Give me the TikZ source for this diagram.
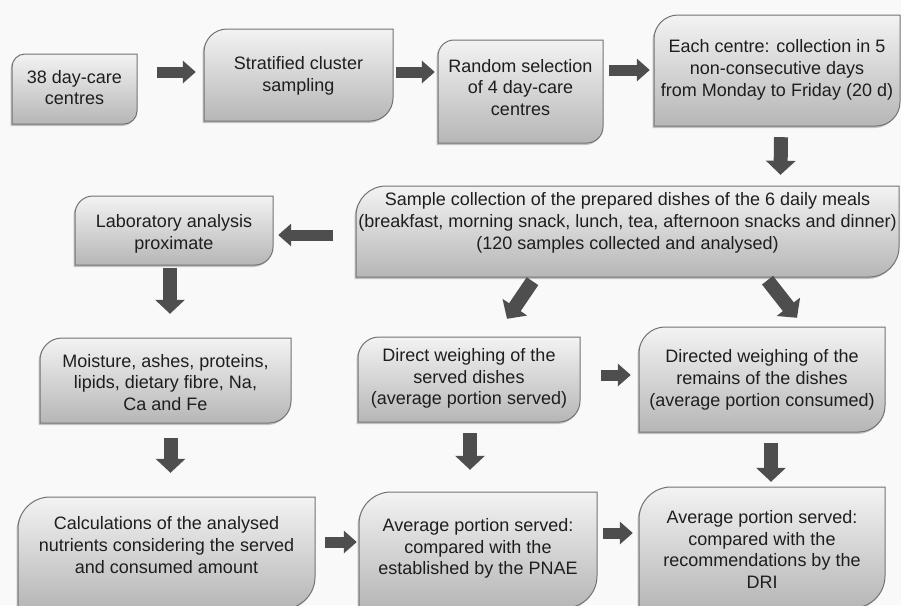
\documentclass[tikz,border=0pt]{standalone}
\usepackage{fontspec}
\setmainfont{Liberation Sans}
\usetikzlibrary{arrows.meta,calc,shadows}
\definecolor{bg}{RGB}{249,249,249}
\definecolor{boxtop}{RGB}{243,243,243}
\definecolor{boxbot}{RGB}{182,182,182}
\definecolor{boxline}{RGB}{115,115,115}
\definecolor{arrowc}{RGB}{78,78,78}
\definecolor{txt}{RGB}{30,30,30}
\tikzset{
 boxshape/.style={draw=boxline, line width=1pt, top color=boxtop, bottom color=boxbot,
   drop shadow={shadow xshift=-1.5pt, shadow yshift=-2pt, opacity=0.45}},
 boxframe/.style={inner sep=0pt, draw=none},
 boxtext/.style={inner sep=0pt, align=center, text=txt, font=\fontsize{18}{21.7}\selectfont},
 harrow/.style={draw=arrowc, line width=11pt, -{Triangle[width=22pt,length=13pt]}},
 varrow/.style={draw=arrowc, line width=14pt, -{Triangle[width=29pt,length=14pt]}},
}
% #1 name, #2 left, #3 top, #4 right, #5 bottom, #6 radius, #7 text centre y, #8 text
\newcommand\flowbox[8]{%
 \path[boxshape] (#4,#3) -- (#4,#5-#6) .. controls (#4,#5-0.45*#6) and (#4-0.45*#6,#5) .. (#4-#6,#5)
   -- (#2,#5) -- (#2,#3+#6) .. controls (#2,#3+0.45*#6) and (#2+0.45*#6,#3) .. (#2+#6,#3) -- cycle;
 \node[boxframe, minimum width={(#4-#2)*1pt}, minimum height={(#5-#3)*1pt}] (#1) at ({(#2+#4)/2},{(#3+#5)/2}) {};
 \node[boxtext] (#1-t) at ({(#2+#4)/2},#7) {#8};
}
\begin{document}
\begin{tikzpicture}[x=1pt,y=-1pt]
\useasboundingbox (0,0) rectangle (901,605);
\clip (0,0) rectangle (901,605);
\fill[bg] (0,0) rectangle (901,605);

\flowbox{b1}{12}{54}{137}{124}{13}{87.5}{38 day-care\\centres}
\flowbox{b2}{204}{29}{393}{121}{23}{76}{Stratified cluster\\sampling}
\flowbox{b3}{438}{40}{603}{143}{16}{87.5}{Random selection\\of 4 day-care\\centres}
\flowbox{b4}{654}{15}{900}{126}{24}{70}{Each centre: collection in 5\\non-consecutive days\\from Monday to Friday (20 d)}
\flowbox{b5}{356}{186}{899}{277}{30}{223}{Sample collection of the prepared dishes of the 6 daily meals\\(breakfast, morning snack, lunch, tea, afternoon snacks and dinner)\\(120 samples collected and analysed)}
\flowbox{lab}{75}{196}{273}{265}{18}{234}{Laboratory analysis\\proximate}
\flowbox{moist}{40}{338}{291}{423}{22}{382.5}{Moisture, ashes, proteins,\\lipids, dietary fibre, Na,\\Ca and Fe}
\flowbox{dw}{358}{337}{580}{422}{21}{378.5}{Direct weighing of the\\served dishes\\(average portion served)}
\flowbox{rem}{639}{327}{885}{432}{26}{380}{Directed weighing of the\\remains of the dishes\\(average portion consumed)}
\flowbox{calc}{18}{497}{315}{609}{32}{545}{Calculations of the analysed\\nutrients considering the served\\and consumed amount}
\flowbox{pnae}{359}{492}{597}{608}{32}{548.5}{Average portion served:\\compared with the\\established by the PNAE}
\flowbox{dri}{639}{487}{885}{608}{32}{549.5}{Average portion served:\\compared with the\\recommendations by the\\DRI}

\draw[harrow] ($(b1.east)+(20,-17)$) -- ($(b2.west)+(-8,-3)$);
\draw[harrow] ($(b2.east)+(3,-3)$) -- ($(b3.west)+(-3,-19.5)$);
\draw[harrow] ($(b3.east)+(6,-21.5)$) -- ($(b4.west)+(-4,-0.5)$);
\draw[varrow] ($(b4.south)+(4,11)$) -- ($(b5.north)+(153,-11)$);
\draw[harrow] ($(b5.west)+(-23,3.5)$) -- ($(lab.east)+(5,4.5)$);
\draw[varrow] ($(lab.south)+(-4,3)$) -- ($(moist.north)+(4.5,-24)$);
\draw[varrow] ($(moist.south)+(5,15)$) -- ($(calc.north)+(4,-24)$);
\draw[harrow] ($(calc.east)+(10,-11)$) -- ($(pnae.west)+(-2,-8)$);
\draw[harrow] ($(pnae.east)+(6,-17)$) -- ($(dri.west)+(-6,-14.5)$);
\draw[varrow] ($(b5.south)+(-95,4)$) -- ($(dw.north)+(38,-18)$);
\draw[varrow] ($(b5.south)+(140,3)$) -- ($(rem.north)+(35,-9)$);
\draw[harrow] ($(dw.east)+(21,-4.5)$) -- ($(rem.west)+(-8,-4.5)$);
\draw[varrow] ($(dw.south)+(1,11)$) -- ($(pnae.north)+(-8,-22)$);
\draw[varrow] ($(rem.south)+(9,11)$) -- ($(dri.north)+(9,-5)$);
\end{tikzpicture}
\end{document}
